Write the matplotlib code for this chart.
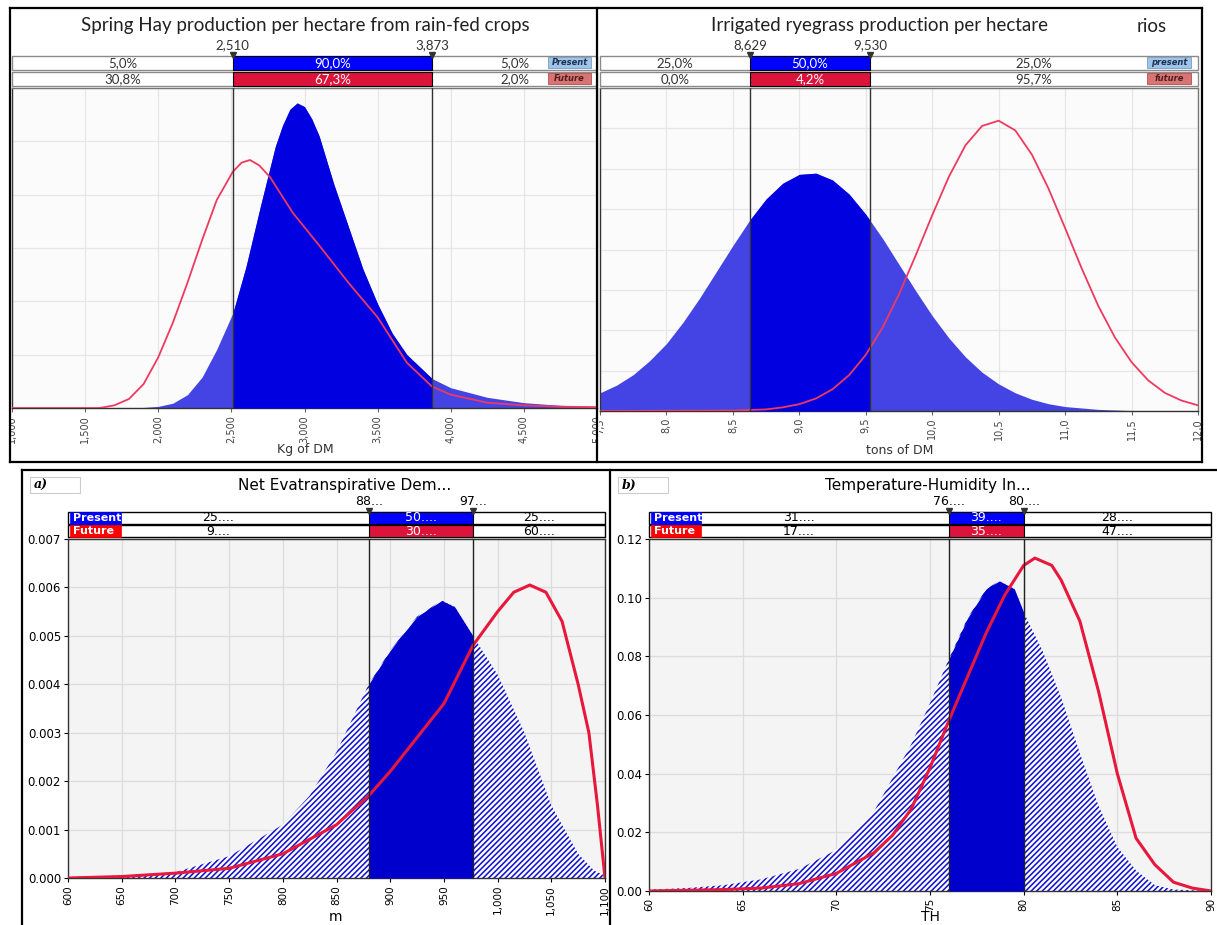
import matplotlib
matplotlib.use("Agg")
import matplotlib.pyplot as plt
from matplotlib.patches import Rectangle

# ---------------- data ----------------
# Panel 1: Spring hay (kg DM / ha)
hay_x_present = [1000, 1500, 1750, 1900, 2000, 2100, 2200, 2300, 2400, 2510, 2600, 2700,
                 2800, 2850, 2900, 2950, 3000, 3050, 3100, 3200, 3300, 3400, 3500, 3600,
                 3700, 3873, 4000, 4250, 4500, 4750, 5000]
hay_y_present = [0.0, 0.0, 0.0, 0.01, 0.03, 0.09, 0.25, 0.58, 1.1, 1.78, 2.65, 3.8,
                 4.9, 5.3, 5.6, 5.72, 5.65, 5.42, 5.1, 4.2, 3.4, 2.6, 1.95, 1.4,
                 1.0, 0.55, 0.38, 0.2, 0.1, 0.05, 0.03]
hay_x_future = [1000, 1600, 1700, 1800, 1900, 2000, 2100, 2200, 2300, 2400, 2510, 2570,
                2627, 2690, 2764, 2920, 3100, 3300, 3500, 3700, 3873, 4000, 4250, 4500,
                4750, 5000]
hay_y_future = [0.0, 0.0, 0.05, 0.17, 0.45, 0.95, 1.6, 2.35, 3.15, 3.9, 4.43, 4.6,
                4.65, 4.55, 4.33, 3.66, 3.05, 2.35, 1.7, 0.85, 0.4, 0.25, 0.1, 0.05,
                0.025, 0.015]
hay_cuts = [2510, 3873]
hay_cut_labels = ["2,510", "3,873"]
hay_pct_present = ["5,0%", "90,0%", "5,0%"]
hay_pct_future = ["30,8%", "67,3%", "2,0%"]
hay_ticks = [1000, 1500, 2000, 2500, 3000, 3500, 4000, 4500, 5000]
hay_tick_labels = ["1,000", "1,500", "2,000", "2,500", "3,000", "3,500", "4,000", "4,500", "5,000"]

# Panel 2: Irrigated ryegrass (t DM / ha)
rye_x_present = [7.5, 7.625, 7.75, 7.875, 8.0, 8.125, 8.25, 8.375, 8.5, 8.625, 8.75, 8.875,
                 9.0, 9.125, 9.25, 9.375, 9.5, 9.625, 9.75, 9.875, 10.0, 10.125, 10.25,
                 10.375, 10.5, 10.625, 10.75, 10.875, 11.0, 11.25, 11.5, 11.75, 12.0]
rye_y_present = [0.45, 0.64, 0.90, 1.25, 1.67, 2.20, 2.80, 3.45, 4.10, 4.72, 5.25, 5.64,
                 5.86, 5.89, 5.72, 5.37, 4.87, 4.28, 3.63, 2.98, 2.36, 1.81, 1.34,
                 0.96, 0.67, 0.45, 0.29, 0.18, 0.11, 0.04, 0.01, 0.005, 0.0]
rye_x_future = [7.5, 8.5, 8.75, 8.875, 9.0, 9.125, 9.25, 9.375, 9.5, 9.625, 9.75, 9.875,
                10.0, 10.125, 10.25, 10.375, 10.5, 10.625, 10.75, 10.875, 11.0, 11.125,
                11.25, 11.375, 11.5, 11.625, 11.75, 11.875, 12.0]
rye_y_future = [0.0, 0.01, 0.04, 0.09, 0.17, 0.31, 0.54, 0.89, 1.39, 2.06, 2.89, 3.85,
                4.85, 5.80, 6.58, 7.06, 7.19, 6.95, 6.35, 5.51, 4.53, 3.53,
                2.60, 1.82, 1.21, 0.76, 0.45, 0.26, 0.14]
rye_cuts = [8.629, 9.530]
rye_cut_labels = ["8,629", "9,530"]
rye_pct_present = ["25,0%", "50,0%", "25,0%"]
rye_pct_future = ["0,0%", "4,2%", "95,7%"]
rye_ticks = [7.5, 8.0, 8.5, 9.0, 9.5, 10.0, 10.5, 11.0, 11.5, 12.0]
rye_tick_labels = ["7,5", "8,0", "8,5", "9,0", "9,5", "10,0", "10,5", "11,0", "11,5", "12,0"]

# Panel a: Net evapotranspirative demand (m)
ned_x_present = [600, 650, 700, 750, 800, 825, 850, 880, 900, 925, 948, 960, 977, 1000,
                 1025, 1050, 1075, 1090, 1100]
ned_y_present = [0.00002, 0.00005, 0.00012, 0.00045, 0.0011, 0.0017, 0.0026, 0.0040,
                 0.0047, 0.0054, 0.00573, 0.0056, 0.0050, 0.0042, 0.0030, 0.0015,
                 0.0005, 0.00015, 0.00005]
ned_x_future = [600, 650, 700, 750, 800, 825, 850, 880, 900, 925, 950, 977, 1000, 1015,
                1030, 1045, 1060, 1075, 1085, 1093, 1100]
ned_y_future = [0.0, 0.00003, 0.0001, 0.0002, 0.0005, 0.0008, 0.0011, 0.0017, 0.0022,
                0.0029, 0.0036, 0.0048, 0.0055, 0.0059, 0.00605, 0.0059, 0.0053, 0.0040,
                0.0030, 0.0015, 0.0]
ned_cuts = [880, 977]
ned_cut_labels = ["88...", "97..."]
ned_pct_present = ["25....", "50....", "25...."]
ned_pct_future = ["9....", "30....", "60...."]
ned_xticks = [600, 650, 700, 750, 800, 850, 900, 950, 1000, 1050, 1100]
ned_xtick_labels = ["600", "650", "700", "750", "800", "850", "900", "950", "1,000", "1,050", "1,100"]
ned_yticks = [0.0, 0.001, 0.002, 0.003, 0.004, 0.005, 0.006, 0.007]
ned_ytick_labels = ["0.000", "0.001", "0.002", "0.003", "0.004", "0.005", "0.006", "0.007"]

# Panel b: Temperature-Humidity Index
thi_x_present = [60, 62, 64, 65, 66, 68, 70, 72, 74, 75, 76, 77, 78, 78.7, 79.5, 80, 81,
                 82, 83, 84, 85, 86, 87, 88, 90]
thi_y_present = [0.0005, 0.001, 0.002, 0.003, 0.004, 0.0075, 0.014, 0.027, 0.050, 0.064,
                 0.079, 0.093, 0.103, 0.1057, 0.103, 0.095, 0.082, 0.066, 0.047, 0.029,
                 0.015, 0.007, 0.002, 0.0005, 0.0]
thi_x_future = [60, 64, 66, 68, 70, 72, 73, 74, 75, 76, 77, 78, 79, 80, 80.6, 81.5, 82,
                83, 84, 85, 86, 87, 88, 89, 90]
thi_y_future = [0.0, 0.0005, 0.001, 0.0025, 0.006, 0.013, 0.019, 0.028, 0.042, 0.058,
                0.073, 0.088, 0.101, 0.111, 0.1135, 0.111, 0.106, 0.092, 0.068, 0.040,
                0.018, 0.009, 0.003, 0.001, 0.0]
thi_cuts = [76, 80]
thi_cut_labels = ["76....", "80...."]
thi_pct_present = ["31....", "39....", "28...."]
thi_pct_future = ["17....", "35....", "47...."]
thi_xticks = [60, 65, 70, 75, 80, 85, 90]
thi_xtick_labels = ["60", "65", "70", "75", "80", "85", "90"]
thi_yticks = [0.0, 0.02, 0.04, 0.06, 0.08, 0.10, 0.12]
thi_ytick_labels = ["0.00", "0.02", "0.04", "0.06", "0.08", "0.10", "0.12"]

# ---------------- figure ----------------
W, H = 1217, 925
plt.rcParams["hatch.linewidth"] = 1.15
fig = plt.figure(figsize=(W / 100, H / 100), dpi=100)
fig.patch.set_facecolor("white")


def px_axes(x0, y0, x1, y1):
    return fig.add_axes([x0 / W, 1 - y1 / H, (x1 - x0) / W, (y1 - y0) / H])


def fig_line(x0, y0, x1, y1, lw=1.6, color="black"):
    fig.add_artist(plt.Line2D([x0 / W, x1 / W], [1 - y0 / H, 1 - y1 / H],
                              transform=fig.transFigure, lw=lw, color=color))


def fig_box(x0, y0, x1, y1, lw=1.0, ec="black", fc="none"):
    fig.add_artist(Rectangle((x0 / W, 1 - y1 / H), (x1 - x0) / W, (y1 - y0) / H,
                             transform=fig.transFigure, lw=lw, ec=ec, fc=fc))


def ftext(x, y, s, **kw):
    fig.text(x / W, 1 - y / H, s, **kw)


def draw_fill(ax, xs, ys, cuts, ylim, tail_kw, solid_color):
    ax.fill_between(xs, ys, 0, zorder=2, **tail_kw)
    solid = ax.fill_between(xs, ys, 0, color=solid_color, lw=0, zorder=3)
    clip = Rectangle((cuts[0], ylim[0]), cuts[1] - cuts[0], ylim[1] - ylim[0],
                     transform=ax.transData)
    solid.set_clip_path(clip)


def draw_bars(bax, xlim, cuts, cut_labels, pct_p, pct_f, top_style):
    bax.set_xlim(xlim)
    bax.set_ylim(0, 2)
    bax.axis("off")
    ec = "#8a8a8a" if top_style else "black"
    tcol = "#333333" if top_style else "black"
    fam = "Lato" if top_style else "DejaVu Sans"
    fs = 9.5 if top_style else 9
    for row, pcts, mid_col in ((1, pct_p, "#0000ff"), (0, pct_f, "#dc143c")):
        bax.add_patch(Rectangle((xlim[0], row + 0.04), xlim[1] - xlim[0], 0.92,
                                fc="white", ec=ec, lw=1.0, clip_on=False))
        bax.add_patch(Rectangle((cuts[0], row + 0.04), cuts[1] - cuts[0], 0.92,
                                fc=mid_col, ec="black", lw=0.8, clip_on=False, zorder=3))
        centers = [(xlim[0] + cuts[0]) / 2, (cuts[0] + cuts[1]) / 2, (cuts[1] + xlim[1]) / 2]
        for i, (cx, s) in enumerate(zip(centers, pcts)):
            bax.text(cx, row + 0.5, s, ha="center", va="center", fontsize=fs,
                     family=fam, color="white" if i == 1 else tcol, zorder=4)
    for c, lab in zip(cuts, cut_labels):
        bax.text(c, 2.25, lab, ha="center", va="bottom", fontsize=9.5 if top_style else 9,
                 family=fam, color=tcol, clip_on=False)
        bax.plot([c], [2.0], marker="v", ms=4, color="#333333", clip_on=False, zorder=5)


def style_top(ax, xlim, ymax, ticks, labels, clip_x0, clip_x1):
    ax.set_xlim(xlim)
    ax.set_ylim(0, ymax)
    ax.set_facecolor("#fbfbfb")
    ax.set_xticks(ticks)
    ax.set_xticklabels(labels, rotation=90, fontsize=7, color="#444444",
                       family="DejaVu Sans")
    clip = Rectangle((clip_x0 / W, 0), (clip_x1 - clip_x0) / W, 1, transform=fig.transFigure)
    for lab in ax.get_xticklabels():
        lab.set_clip_path(clip)
    ax.set_yticks(range(0, ymax + 1))
    ax.tick_params(axis="y", length=0, labelleft=False)
    ax.tick_params(axis="x", length=3, color="#666666", pad=2)
    ax.grid(True, color="#e6e6e6", lw=0.9, zorder=0)
    ax.set_axisbelow(True)
    for s in ax.spines.values():
        s.set_color("#777777")
        s.set_lw(1.0)
    ax.spines["left"].set_color("#333333")
    ax.spines["bottom"].set_color("#333333")


def style_bottom(ax, xlim, ylim, xticks, xlabels, yticks, ylabels):
    ax.set_xlim(xlim)
    ax.set_ylim(ylim)
    ax.set_facecolor("#f4f4f4")
    ax.set_xticks(xticks)
    ax.set_xticklabels(xlabels, rotation=90, fontsize=7.5)
    ax.set_yticks(yticks)
    ax.set_yticklabels(ylabels, fontsize=8.5)
    ax.tick_params(length=3, pad=2)
    ax.grid(True, color="#dcdcdc", lw=0.9, zorder=0)
    ax.set_axisbelow(True)
    for s in ax.spines.values():
        s.set_color("#333333")
        s.set_lw(1.0)


# ---------- panel borders ----------
fig_line(10, 8, 1202, 8)
fig_line(10, 462, 1202, 462)
fig_line(10, 8, 10, 462)
fig_line(1202, 8, 1202, 462)
fig_line(597, 8, 597, 462)
fig_line(22, 470, 1217, 470)
fig_line(22, 470, 22, 925)
fig_line(610, 470, 610, 925)

# ---------- Top-left: Spring hay ----------
hay_xlim = (1000, 5000)
ax1 = px_axes(12, 88, 597, 408)
style_top(ax1, hay_xlim, 6, hay_ticks, hay_tick_labels, 10, 596)
draw_fill(ax1, hay_x_present, hay_y_present, hay_cuts, (0, 6),
          dict(color="#4444e4", lw=0), "#0000e0")
ax1.plot(hay_x_future, hay_y_future, color="#ee3a5e", lw=1.3, zorder=4)
for c in hay_cuts:
    ax1.axvline(c, color="#333333", lw=1.0, zorder=5)
bx1 = px_axes(12, 55, 597, 87)
draw_bars(bx1, hay_xlim, hay_cuts, hay_cut_labels, hay_pct_present, hay_pct_future, True)
ftext(305, 26, "Spring Hay production per hectare from rain-fed crops", ha="center",
      va="center", fontsize=13.5, family="Lato", color="#222222")
ftext(305, 450, "Kg of DM", ha="center", va="center", fontsize=9, color="#333333")

# ---------- Top-right: ryegrass ----------
rye_xlim = (7.5, 12.0)
ax2 = px_axes(600, 88, 1198, 411)
style_top(ax2, rye_xlim, 8, rye_ticks, rye_tick_labels, 599, 1201)
draw_fill(ax2, rye_x_present, rye_y_present, rye_cuts, (0, 8),
          dict(color="#4444e4", lw=0), "#0000e0")
ax2.plot(rye_x_future, rye_y_future, color="#ee3a5e", lw=1.3, zorder=4)
for c in rye_cuts:
    ax2.axvline(c, color="#333333", lw=1.0, zorder=5)
bx2 = px_axes(600, 55, 1198, 87)
draw_bars(bx2, rye_xlim, rye_cuts, rye_cut_labels, rye_pct_present, rye_pct_future, True)
ftext(880, 26, "Irrigated ryegrass production per hectare", ha="center", va="center",
      fontsize=13.5, family="Lato", color="#222222")
ftext(1152, 26, "rios", ha="center", va="center", fontsize=13.5, family="Lato",
      color="#222222")
ftext(900, 450, "tons of DM", ha="center", va="center", fontsize=9, color="#333333")

# small legend boxes on top panels
for bx, names in ((bx1, ("Present", "Future")), (bx2, ("present", "future"))):
    x0 = 0.916 if bx is bx1 else 0.915
    bx.add_patch(Rectangle((x0, 0.58), 0.074, 0.36, transform=bx.transAxes,
                           fc="#9ec4ea", ec="#7a9cc0", lw=0.6, zorder=6, clip_on=False))
    bx.add_patch(Rectangle((x0, 0.08), 0.074, 0.36, transform=bx.transAxes,
                           fc="#da7474", ec="#b05050", lw=0.6, zorder=6, clip_on=False))
    bx.text(x0 + 0.037, 0.76, names[0], transform=bx.transAxes, ha="center", va="center",
            fontsize=6, style="italic", weight="bold", color="#203050", zorder=7)
    bx.text(x0 + 0.037, 0.26, names[1], transform=bx.transAxes, ha="center", va="center",
            fontsize=6, style="italic", weight="bold", color="#502020", zorder=7)

# ---------- Bottom-left: NED ----------
hatch_kw = dict(facecolor="white", edgecolor="#1414d0", hatch="/" * 6, lw=0)
ned_xlim = (600, 1100)
ax3 = px_axes(68, 539, 605, 878)
style_bottom(ax3, ned_xlim, (0, 0.007), ned_xticks, ned_xtick_labels, ned_yticks,
             ned_ytick_labels)
draw_fill(ax3, ned_x_present, ned_y_present, ned_cuts, (0, 0.007), hatch_kw, "#0000cc")
ax3.plot(ned_x_future, ned_y_future, color="#e8173c", lw=2.2, zorder=4)
for c in ned_cuts:
    ax3.axvline(c, color="#222222", lw=1.0, zorder=5)
bx3 = px_axes(68, 511, 605, 538)
draw_bars(bx3, ned_xlim, ned_cuts, ned_cut_labels, ned_pct_present, ned_pct_future, False)
ftext(345, 486, "Net Evatranspirative Dem...", ha="center", va="center", fontsize=11)
ftext(335, 917, "m", ha="center", va="center", fontsize=10)

# ---------- Bottom-right: THI ----------
thi_xlim = (60, 90)
ax4 = px_axes(649, 539, 1211, 891)
style_bottom(ax4, thi_xlim, (0, 0.12), thi_xticks, thi_xtick_labels, thi_yticks,
             thi_ytick_labels)
draw_fill(ax4, thi_x_present, thi_y_present, thi_cuts, (0, 0.12), hatch_kw, "#0000cc")
ax4.plot(thi_x_future, thi_y_future, color="#e8173c", lw=2.2, zorder=4)
for c in thi_cuts:
    ax4.axvline(c, color="#222222", lw=1.0, zorder=5)
bx4 = px_axes(649, 511, 1211, 538)
draw_bars(bx4, thi_xlim, thi_cuts, thi_cut_labels, thi_pct_present, thi_pct_future, False)
ftext(928, 486, "Temperature-Humidity In...", ha="center", va="center", fontsize=11)
ftext(930, 917, "TH", ha="center", va="center", fontsize=10)

# Present / Future tags on bottom panels
for bx, x0, w in ((bx3, 0.004, 0.095), (bx4, 0.0035, 0.089)):
    bx.add_patch(Rectangle((x0, 0.52), w, 0.46, transform=bx.transAxes, fc="#0000ff",
                           ec="#0000ff", lw=0.5, zorder=6, clip_on=False))
    bx.add_patch(Rectangle((x0, 0.04), w, 0.46, transform=bx.transAxes, fc="#ff0000",
                           ec="#ff0000", lw=0.5, zorder=6, clip_on=False))
    bx.text(x0 + 0.006, 0.75, "Present", transform=bx.transAxes, ha="left", va="center",
            fontsize=8, weight="bold", color="white", zorder=7)
    bx.text(x0 + 0.006, 0.27, "Future", transform=bx.transAxes, ha="left", va="center",
            fontsize=8, weight="bold", color="white", zorder=7)

# a) / b) tags
for (x0, x1), lab in (((30, 80), "a)"), ((618, 668), "b)")):
    fig_box(x0, 477, x1, 493, lw=0.8, ec="#cccccc")
    ftext(x0 + 4, 485, lab, ha="left", va="center", fontsize=9, weight="bold",
          style="italic", family="DejaVu Serif")

fig.savefig("out.png", dpi=100)
